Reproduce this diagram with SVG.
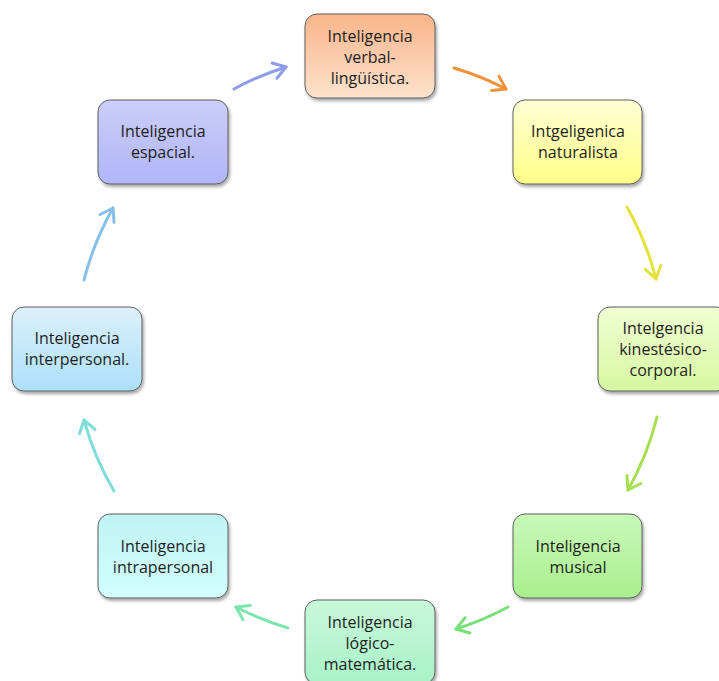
<svg xmlns="http://www.w3.org/2000/svg" width="719" height="681" viewBox="0 0 719 681">
<style>
.box{stroke:#5f5f5f;stroke-width:1;filter:url(#sh)}
.t{font-family:"Open Sans","Liberation Sans",sans-serif;font-size:16px;fill:#1e1e1e;text-anchor:middle}
.arc{fill:none;stroke-width:3;stroke-linecap:round}
</style>
<defs>
<filter id="sh" x="-10%" y="-10%" width="125%" height="130%">
<feDropShadow dx="1.5" dy="2.5" stdDeviation="1.8" flood-color="#000" flood-opacity="0.35"/>
</filter>
<linearGradient id="g1" x1="0" y1="0" x2="0" y2="1"><stop offset="0" stop-color="#f9b589"/><stop offset="1" stop-color="#fde2cd"/></linearGradient>
<linearGradient id="g2" x1="0" y1="0" x2="0" y2="1"><stop offset="0" stop-color="#ffffd4"/><stop offset="1" stop-color="#ffff88"/></linearGradient>
<linearGradient id="g3" x1="0" y1="0" x2="0" y2="1"><stop offset="0" stop-color="#f1ffd2"/><stop offset="1" stop-color="#d6f7a2"/></linearGradient>
<linearGradient id="g4" x1="0" y1="0" x2="0" y2="1"><stop offset="0" stop-color="#c9f8b9"/><stop offset="1" stop-color="#a9ef8e"/></linearGradient>
<linearGradient id="g5" x1="0" y1="0" x2="0" y2="1"><stop offset="0" stop-color="#c8f8d8"/><stop offset="1" stop-color="#a8f2c8"/></linearGradient>
<linearGradient id="g6" x1="0" y1="0" x2="0" y2="1"><stop offset="0" stop-color="#bff3f3"/><stop offset="1" stop-color="#d2ffff"/></linearGradient>
<linearGradient id="g7" x1="0" y1="0" x2="0" y2="1"><stop offset="0" stop-color="#dcf0fc"/><stop offset="1" stop-color="#ace0f8"/></linearGradient>
<linearGradient id="g8" x1="0" y1="0" x2="0" y2="1"><stop offset="0" stop-color="#cccdf8"/><stop offset="1" stop-color="#b0b6f8"/></linearGradient>
<marker id="m1" markerUnits="userSpaceOnUse" markerWidth="30" markerHeight="30" refX="15" refY="15" orient="auto" overflow="visible"><path d="M3,7 L15,15 L3,23" fill="none" stroke="#8e9de8" stroke-width="3" stroke-linecap="round" stroke-linejoin="round"/></marker>
<marker id="m2" markerUnits="userSpaceOnUse" markerWidth="30" markerHeight="30" refX="15" refY="15" orient="auto" overflow="visible"><path d="M3,7 L15,15 L3,23" fill="none" stroke="#f0923a" stroke-width="3" stroke-linecap="round" stroke-linejoin="round"/></marker>
<marker id="m3" markerUnits="userSpaceOnUse" markerWidth="30" markerHeight="30" refX="15" refY="15" orient="auto" overflow="visible"><path d="M3,7 L15,15 L3,23" fill="none" stroke="#e4e23c" stroke-width="3" stroke-linecap="round" stroke-linejoin="round"/></marker>
<marker id="m4" markerUnits="userSpaceOnUse" markerWidth="30" markerHeight="30" refX="15" refY="15" orient="auto" overflow="visible"><path d="M3,7 L15,15 L3,23" fill="none" stroke="#a6e050" stroke-width="3" stroke-linecap="round" stroke-linejoin="round"/></marker>
<marker id="m5" markerUnits="userSpaceOnUse" markerWidth="30" markerHeight="30" refX="15" refY="15" orient="auto" overflow="visible"><path d="M3,7 L15,15 L3,23" fill="none" stroke="#78df7a" stroke-width="3" stroke-linecap="round" stroke-linejoin="round"/></marker>
<marker id="m6" markerUnits="userSpaceOnUse" markerWidth="30" markerHeight="30" refX="15" refY="15" orient="auto" overflow="visible"><path d="M3,7 L15,15 L3,23" fill="none" stroke="#7ae6ae" stroke-width="3" stroke-linecap="round" stroke-linejoin="round"/></marker>
<marker id="m7" markerUnits="userSpaceOnUse" markerWidth="30" markerHeight="30" refX="15" refY="15" orient="auto" overflow="visible"><path d="M3,7 L15,15 L3,23" fill="none" stroke="#80ddd8" stroke-width="3" stroke-linecap="round" stroke-linejoin="round"/></marker>
<marker id="m8" markerUnits="userSpaceOnUse" markerWidth="30" markerHeight="30" refX="15" refY="15" orient="auto" overflow="visible"><path d="M3,7 L15,15 L3,23" fill="none" stroke="#88bfe8" stroke-width="3" stroke-linecap="round" stroke-linejoin="round"/></marker>
</defs>
<rect width="719" height="681" fill="#ffffff"/>
<g id="connectors">
<path class="arc" stroke="#8e9de8" marker-end="url(#m1)" d="M234,89 A293,293 0 0 1 286,67"/>
<path class="arc" stroke="#f0923a" marker-end="url(#m2)" d="M454,68 A293,293 0 0 1 506,89"/>
<path class="arc" stroke="#e4e23c" marker-end="url(#m3)" d="M627,207 A293,293 0 0 1 656,279"/>
<path class="arc" stroke="#a6e050" marker-end="url(#m4)" d="M657,417 A293,293 0 0 1 628,490"/>
<path class="arc" stroke="#78df7a" marker-end="url(#m5)" d="M508,607 A293,293 0 0 1 456,629"/>
<path class="arc" stroke="#7ae6ae" marker-end="url(#m6)" d="M288,628 A293,293 0 0 1 236,607"/>
<path class="arc" stroke="#80ddd8" marker-end="url(#m7)" d="M114,491 A293,293 0 0 1 84,420"/>
<path class="arc" stroke="#88bfe8" marker-end="url(#m8)" d="M84,280 A293,293 0 0 1 113,208"/>
</g>
<g id="n1"><rect class="box" x="305" y="14" width="130" height="84" rx="12" fill="url(#g1)"/>
<text class="t" x="370" y="42">Inteligencia</text><text class="t" x="370" y="63">verbal-</text><text class="t" x="370" y="84">lingüística.</text></g>
<g id="n2"><rect class="box" x="513" y="100" width="129" height="84" rx="12" fill="url(#g2)"/>
<text class="t" x="578" y="137">Intgeligenica</text><text class="t" x="578" y="158">naturalista</text></g>
<g id="n3"><rect class="box" x="598" y="307" width="130" height="84" rx="12" fill="url(#g3)"/>
<text class="t" x="663" y="334">Intelgencia</text><text class="t" x="663" y="355">kinestésico-</text><text class="t" x="663" y="376">corporal.</text></g>
<g id="n4"><rect class="box" x="513" y="514" width="129" height="84" rx="12" fill="url(#g4)"/>
<text class="t" x="578" y="552">Inteligencia</text><text class="t" x="578" y="573">musical</text></g>
<g id="n5"><rect class="box" x="305" y="600" width="130" height="84" rx="12" fill="url(#g5)"/>
<text class="t" x="370" y="628">Inteligencia</text><text class="t" x="370" y="649">lógico-</text><text class="t" x="370" y="670">matemática.</text></g>
<g id="n6"><rect class="box" x="98" y="514" width="130" height="84" rx="12" fill="url(#g6)"/>
<text class="t" x="163" y="552">Inteligencia</text><text class="t" x="163" y="573">intrapersonal</text></g>
<g id="n7"><rect class="box" x="12" y="307" width="130" height="84" rx="12" fill="url(#g7)"/>
<text class="t" x="77" y="344">Inteligencia</text><text class="t" x="77" y="365">interpersonal.</text></g>
<g id="n8"><rect class="box" x="98" y="100" width="130" height="84" rx="12" fill="url(#g8)"/>
<text class="t" x="163" y="137">Inteligencia</text><text class="t" x="163" y="158">espacial.</text></g>
</svg>
